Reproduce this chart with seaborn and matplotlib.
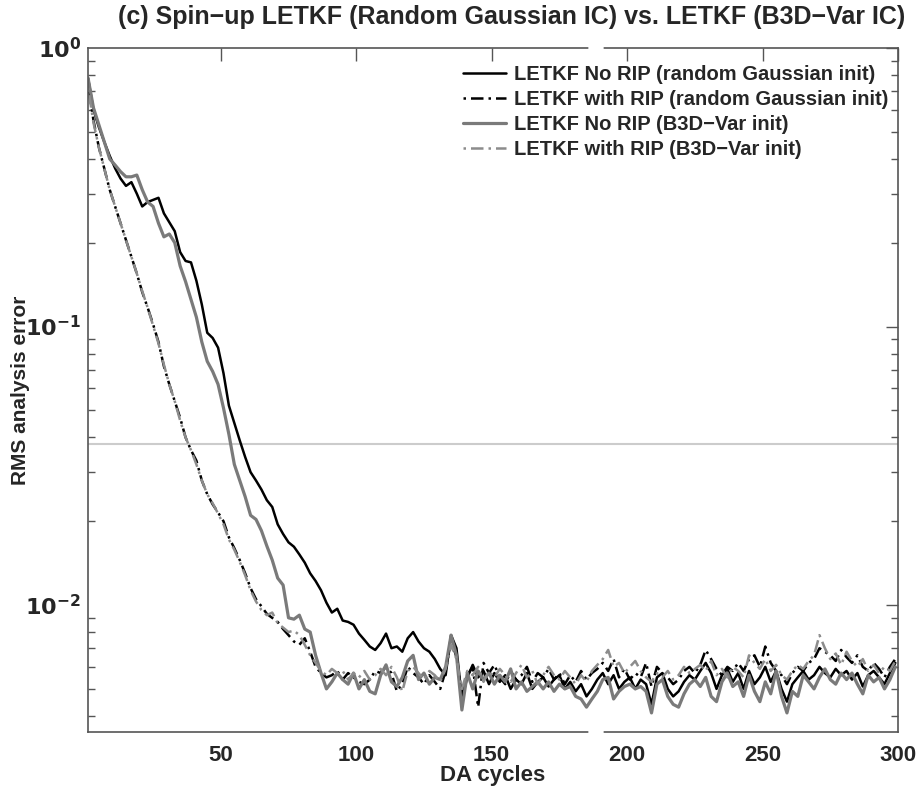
"""
Spin-up of LETKF with and without RIP, random Gaussian vs. B3D-Var initial conditions.
"""
import seaborn as sns
import pandas as pd
import matplotlib.pyplot as plt
from matplotlib.ticker import FixedLocator, LogLocator, NullFormatter

# DA cycles (every second cycle)
cycles = list(range(1, 301, 2))

# LETKF No RIP (random Gaussian init)
norip_random = [
    0.78, 0.60, 0.52, 0.46, 0.41, 0.37, 0.34, 0.32, 0.33, 0.30,
    0.27, 0.28, 0.285, 0.29, 0.255, 0.237, 0.22, 0.185, 0.172, 0.17,
    0.146, 0.12, 0.095, 0.091, 0.084, 0.068, 0.052, 0.045, 0.039, 0.034,
    0.030, 0.028, 0.026, 0.0238, 0.0225, 0.0195, 0.018, 0.0168, 0.0162, 0.0152,
    0.0142, 0.013, 0.0122, 0.0113, 0.0102, 0.0094, 0.0097, 0.0088, 0.0087, 0.0085,
    0.0079, 0.0075, 0.0071, 0.0069, 0.0073, 0.0079, 0.0070, 0.0071, 0.0068, 0.0076,
    0.0080, 0.0074, 0.0070, 0.0068, 0.0064, 0.0059, 0.0056, 0.0078, 0.0070, 0.0046,
    0.0055, 0.0061, 0.0055, 0.0058, 0.0052, 0.0057, 0.0053, 0.0056, 0.0050, 0.0054,
    0.0052, 0.0057, 0.0050, 0.0053, 0.0055, 0.0051, 0.0054, 0.0056, 0.0050, 0.0053,
    0.0049, 0.0052, 0.0047, 0.0050, 0.0054, 0.0057, 0.0052, 0.0056, 0.0050, 0.0053,
    0.0055, 0.0050, 0.0054, 0.0052, 0.0044, 0.0055, 0.0057, 0.0050, 0.0047, 0.0049,
    0.0053, 0.0056, 0.0054, 0.0058, 0.0062, 0.0057, 0.0050, 0.0056, 0.0059, 0.0053,
    0.0057, 0.0050, 0.0058, 0.0052, 0.0055, 0.0060, 0.0053, 0.0058, 0.0050, 0.0045,
    0.0052, 0.0055, 0.0058, 0.0054, 0.0056, 0.0060, 0.0057, 0.0055, 0.0059, 0.0056,
    0.0058, 0.0054, 0.0057, 0.0051, 0.0056, 0.0058, 0.0055, 0.0052, 0.0057, 0.0062,
]

# LETKF with RIP (random Gaussian init)
rip_random = [
    0.74, 0.55, 0.44, 0.37, 0.31, 0.27, 0.235, 0.205, 0.178, 0.155,
    0.133, 0.117, 0.102, 0.088, 0.072, 0.062, 0.054, 0.047, 0.040, 0.036,
    0.033, 0.028, 0.025, 0.023, 0.0215, 0.020, 0.0175, 0.0160, 0.0145, 0.0130,
    0.0115, 0.0105, 0.0099, 0.0093, 0.0090, 0.0087, 0.0082, 0.0078, 0.0074, 0.0072,
    0.0076, 0.0068, 0.0060, 0.0057, 0.0055, 0.0056, 0.0058, 0.0054, 0.0057, 0.0055,
    0.0053, 0.0052, 0.0054, 0.0058, 0.0057, 0.0060, 0.0057, 0.0049, 0.0052, 0.0060,
    0.0057, 0.0055, 0.0052, 0.0056, 0.0053, 0.0050, 0.0058, 0.0075, 0.0065, 0.0047,
    0.0056, 0.0060, 0.0043, 0.0062, 0.0057, 0.0061, 0.0055, 0.0052, 0.0058, 0.0054,
    0.0056, 0.0060, 0.0053, 0.0057, 0.0055, 0.0059, 0.0054, 0.0057, 0.0052, 0.0056,
    0.0053, 0.0058, 0.0054, 0.0057, 0.0059, 0.0062, 0.0058, 0.0064, 0.0055, 0.0059,
    0.0054, 0.0057, 0.0055, 0.0062, 0.0051, 0.0060, 0.0057, 0.0055, 0.0052, 0.0054,
    0.0058, 0.0060, 0.0057, 0.0061, 0.0069, 0.0064, 0.0059, 0.0056, 0.0060, 0.0058,
    0.0062, 0.0058, 0.0064, 0.0066, 0.0060, 0.0071, 0.0062, 0.0058, 0.0056, 0.0052,
    0.0057, 0.0060, 0.0058, 0.0062, 0.0064, 0.0070, 0.0068, 0.0066, 0.0063, 0.0069,
    0.0065, 0.0062, 0.0066, 0.0060, 0.0058, 0.0062, 0.0059, 0.0055, 0.0060, 0.0064,
]

# LETKF No RIP (B3D-Var init)
norip_b3dvar = [
    0.78, 0.61, 0.53, 0.46, 0.40, 0.38, 0.36, 0.345, 0.345, 0.35,
    0.31, 0.28, 0.27, 0.235, 0.21, 0.215, 0.20, 0.165, 0.145, 0.125,
    0.108, 0.088, 0.075, 0.069, 0.062, 0.051, 0.041, 0.032, 0.028, 0.0245,
    0.021, 0.0203, 0.0185, 0.0163, 0.0145, 0.0125, 0.0118, 0.0090, 0.0089, 0.0092,
    0.0082, 0.0080, 0.0066, 0.0057, 0.0050, 0.0053, 0.0057, 0.0054, 0.0052, 0.0057,
    0.0050, 0.0054, 0.0049, 0.0048, 0.0056, 0.0061, 0.0053, 0.0051, 0.0055, 0.0063,
    0.0066, 0.0054, 0.0057, 0.0052, 0.0055, 0.0054, 0.0060, 0.0078, 0.0066, 0.0042,
    0.0057, 0.0050, 0.0058, 0.0054, 0.0057, 0.0052, 0.0056, 0.0053, 0.0059, 0.0050,
    0.0053, 0.0049, 0.0051, 0.0053, 0.0050, 0.0053, 0.0049, 0.0052, 0.0050, 0.0051,
    0.0047, 0.0046, 0.0043, 0.0046, 0.0049, 0.0054, 0.0055, 0.0046, 0.0049, 0.0051,
    0.0052, 0.0050, 0.0051, 0.0049, 0.0041, 0.0052, 0.0054, 0.0047, 0.0044, 0.0043,
    0.0048, 0.0052, 0.0054, 0.0051, 0.0055, 0.0047, 0.0045, 0.0053, 0.0057, 0.0051,
    0.0053, 0.0047, 0.0056, 0.0049, 0.0045, 0.0053, 0.0048, 0.0058, 0.0047, 0.0041,
    0.0049, 0.0047, 0.0056, 0.0053, 0.0050, 0.0055, 0.0059, 0.0054, 0.0052, 0.0057,
    0.0054, 0.0057, 0.0052, 0.0048, 0.0056, 0.0053, 0.0055, 0.0050, 0.0054, 0.0060,
]

# LETKF with RIP (B3D-Var init)
rip_b3dvar = [
    0.72, 0.54, 0.44, 0.37, 0.31, 0.27, 0.235, 0.205, 0.178, 0.155,
    0.134, 0.117, 0.101, 0.087, 0.073, 0.062, 0.054, 0.046, 0.040, 0.036,
    0.032, 0.028, 0.025, 0.0232, 0.0213, 0.0195, 0.0172, 0.0158, 0.0143, 0.0128,
    0.0113, 0.0103, 0.0096, 0.0092, 0.0094, 0.0086, 0.0083, 0.0080, 0.0081, 0.0078,
    0.0072, 0.0066, 0.0062, 0.0058, 0.0056, 0.0059, 0.0057, 0.0058, 0.0054, 0.0057,
    0.0055, 0.0058, 0.0054, 0.0056, 0.0059, 0.0056, 0.0060, 0.0055, 0.0049, 0.0058,
    0.0060, 0.0057, 0.0054, 0.0058, 0.0056, 0.0053, 0.0059, 0.0072, 0.0064, 0.0050,
    0.0058, 0.0056, 0.0060, 0.0053, 0.0058, 0.0055, 0.0059, 0.0056, 0.0053, 0.0057,
    0.0061, 0.0055, 0.0058, 0.0052, 0.0056, 0.0060, 0.0056, 0.0054, 0.0058, 0.0055,
    0.0052, 0.0056, 0.0053, 0.0058, 0.0061, 0.0064, 0.0069, 0.0060, 0.0062, 0.0057,
    0.0060, 0.0063, 0.0058, 0.0055, 0.0053, 0.0057, 0.0055, 0.0058, 0.0054, 0.0056,
    0.0060, 0.0057, 0.0059, 0.0061, 0.0058, 0.0063, 0.0056, 0.0059, 0.0055, 0.0060,
    0.0058, 0.0055, 0.0066, 0.0062, 0.0059, 0.0064, 0.0058, 0.0061, 0.0056, 0.0054,
    0.0058, 0.0061, 0.0059, 0.0063, 0.0066, 0.0078, 0.0070, 0.0064, 0.0067, 0.0061,
    0.0068, 0.0063, 0.0060, 0.0064, 0.0058, 0.0061, 0.0057, 0.0060, 0.0058, 0.0063,
]

labels = [
    "LETKF No RIP (random Gaussian init)",
    "LETKF with RIP (random Gaussian init)",
    "LETKF No RIP (B3D\u2212Var init)",
    "LETKF with RIP (B3D\u2212Var init)",
]
series = [norip_random, rip_random, norip_b3dvar, rip_b3dvar]
colors = ["black", "black", "#7a7a7a", "#8c8c8c"]
widths = [1.8, 1.8, 2.3, 1.8]
dashes = [None, (1, 2, 5, 2), None, (1, 2, 5, 2)]

# reference level (horizontal line)
ref_level = 0.038

sns.set_style("white")
plt.rcParams["font.family"] = ["Liberation Sans", "DejaVu Sans"]
plt.rcParams["font.weight"] = "bold"

fig = plt.figure(figsize=(9.22, 7.88), dpi=100)
ax = fig.add_axes([0.0955, 0.071, 0.8785, 0.868])

ax.axhline(ref_level, color="#cccccc", lw=1.5, zorder=1)

for lab, vals, col, lw, ds in zip(labels, series, colors, widths, dashes):
    df = pd.DataFrame({"cycle": cycles, "rmse": vals})
    line = sns.lineplot(data=df, x="cycle", y="rmse", ax=ax, color=col,
                        lw=lw, label=lab).lines[-1]
    if ds is not None:
        line.set_dashes(ds)

ax.set_yscale("log")
ax.set_xlim(1, 300)
ax.set_ylim(0.0035, 1.0)

# Ticks: inward, on all sides.
ax.set_xticks([50, 100, 150, 200, 250, 300])
ax.yaxis.set_major_locator(FixedLocator([1e-2, 1e-1, 1e0]))
ax.yaxis.set_minor_locator(LogLocator(base=10, subs=range(2, 10)))
ax.yaxis.set_minor_formatter(NullFormatter())
ax.set_yticklabels([r"$\mathbf{10^{-2}}$", r"$\mathbf{10^{-1}}$", r"$\mathbf{10^{0}}$"])
ax.tick_params(axis="both", which="major", direction="in", length=9,
               width=1, color="#555555", top=True, right=True,
               labelsize=16)
ax.tick_params(axis="y", which="minor", direction="in", length=5,
               width=1, color="#555555", left=True, right=True)
ax.tick_params(axis="y", pad=5)
ax.tick_params(axis="x", pad=9)
for s in ax.spines.values():
    s.set_color("#555555")
    s.set_linewidth(1.2)

# Break in the x axis between cycle ~187 and ~190.
for yy in (0, 1):
    ax.plot([186.5, 190.5], [yy, yy], color="white", lw=4,
            transform=ax.get_xaxis_transform(), clip_on=False, zorder=5)

ax.set_xlabel("DA cycles", fontsize=16, fontweight="bold")
ax.xaxis.set_label_coords(0.5, -0.048)
ax.set_ylabel("RMS analysis error", fontsize=15, fontweight="bold")
ax.yaxis.set_label_coords(-0.072, 0.5)
ax.set_title("(c) Spin\u2212up LETKF (Random Gaussian IC) vs. LETKF (B3D\u2212Var IC)",
             fontsize=18, fontweight="bold", pad=17, x=0.523)

leg = ax.legend(loc="upper right", bbox_to_anchor=(1.0, 0.99), frameon=False,
                fontsize=14.5, handlelength=2.1, handletextpad=0.4,
                labelspacing=0.3, borderaxespad=0.1)
for t in leg.get_texts():
    t.set_fontweight("bold")

plt.savefig("out.png", dpi=100)
